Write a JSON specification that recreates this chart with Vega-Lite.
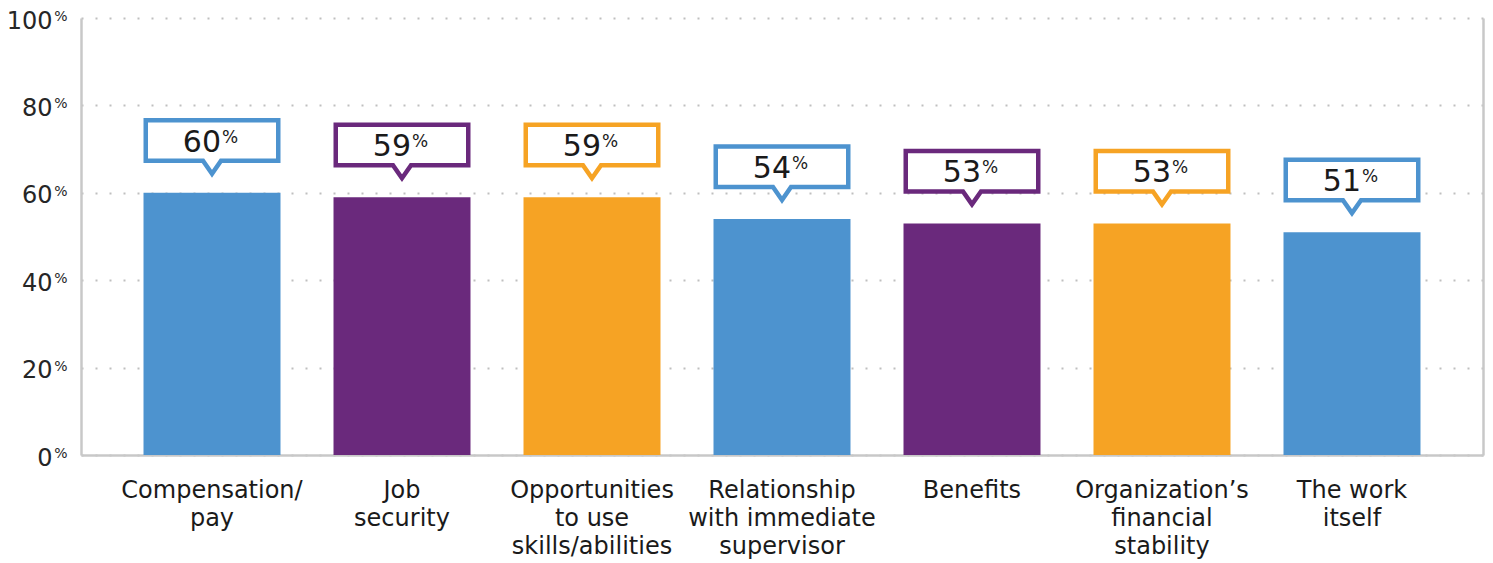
{
  "$schema": "https://vega.github.io/schema/vega-lite/v6.json",
  "width": 1402,
  "height": 437,
  "autosize": {"type": "none"},
  "padding": {"left": 81, "top": 18, "right": 10, "bottom": 108},
  "background": "white",
  "config": {"view": {"stroke": null}, "font": "DejaVu Sans"},
  "data": {
    "values": [
      {"category": "Compensation/\npay", "value": 60},
      {"category": "Job\nsecurity", "value": 59},
      {"category": "Opportunities\nto use\nskills/abilities", "value": 59},
      {"category": "Relationship\nwith immediate\nsupervisor", "value": 54},
      {"category": "Benefits", "value": 53},
      {"category": "Organization’s\nfinancial\nstability", "value": 53},
      {"category": "The work\nitself", "value": 51}
    ]
  },
  "encoding": {
    "x": {
      "field": "category",
      "type": "nominal",
      "sort": null,
      "scale": {"paddingInner": 0.279, "paddingOuter": 0.329},
      "axis": {
        "title": null,
        "labelAngle": 0,
        "labelExpr": "split(datum.label, '\\n')",
        "labelFontSize": 24,
        "labelLineHeight": 28,
        "labelLimit": 400,
        "labelColor": "#1a1a1a",
        "labelPadding": 23,
        "labelBaseline": "top",
        "labelAlign": "center",
        "ticks": false,
        "tickSize": 0,
        "domainColor": "#c8c8c8",
        "domainWidth": 2.5
      }
    }
  },
  "resolve": {"axis": {"y": "independent"}},
  "layer": [
    {
      "mark": {"type": "bar"},
      "encoding": {
        "y": {
          "field": "value",
          "type": "quantitative",
          "scale": {"domain": [0, 100]},
          "axis": {
            "orient": "left",
            "title": null,
            "values": [0, 20, 40, 60, 80, 100],
            "labelFontSize": 24,
            "labelColor": "#262626",
            "labelPadding": 29,
            "labelOffset": 10,
            "labelBaseline": "alphabetic",
            "labelAlign": "right",
            "ticks": false,
            "tickSize": 0,
            "grid": true,
            "gridColor": "#bfbfbf",
            "gridDash": [2, 12],
            "gridWidth": 2,
            "domainColor": "#c8c8c8",
            "domainWidth": 2.5
          }
        },
        "color": {
          "field": "category",
          "type": "nominal",
          "sort": null,
          "scale": {"range": ["#4D93CF", "#6A297C", "#F6A324", "#4D93CF", "#6A297C", "#F6A324", "#4D93CF"]},
          "legend": null
        }
      }
    },
    {
      "mark": {
        "type": "point",
        "shape": "M0,0L-0.136,-0.196L-1,-0.196L-1,-0.8075L1,-0.8075L1,-0.196L0.136,-0.196Z",
        "size": 17556,
        "filled": true,
        "fill": "white",
        "fillOpacity": 1,
        "strokeOpacity": 1,
        "opacity": 1,
        "strokeWidth": 4.5,
        "strokeJoin": "miter",
        "yOffset": -19
      },
      "encoding": {
        "y": {
          "field": "value",
          "type": "quantitative",
          "scale": {"domain": [0, 100]},
          "axis": {
            "orient": "left",
            "title": null,
            "values": [0, 20, 40, 60, 80, 100],
            "labelExpr": "'%'",
            "labelFontSize": 14,
            "labelColor": "#262626",
            "labelPadding": 14,
            "labelOffset": 2.5,
            "labelBaseline": "alphabetic",
            "labelAlign": "right",
            "ticks": false,
            "tickSize": 0,
            "grid": false,
            "domain": false
          }
        },
        "stroke": {
          "field": "category",
          "type": "nominal",
          "sort": null,
          "scale": {"range": ["#4D93CF", "#6A297C", "#F6A324", "#4D93CF", "#6A297C", "#F6A324", "#4D93CF"]},
          "legend": null
        }
      }
    },
    {
      "mark": {
        "type": "text",
        "align": "right",
        "baseline": "alphabetic",
        "fontSize": 30,
        "color": "#1a1a1a",
        "xOffset": 9,
        "yOffset": -41
      },
      "encoding": {
        "y": {
          "field": "value",
          "type": "quantitative",
          "scale": {"domain": [0, 100]},
          "axis": {
            "orient": "right",
            "title": null,
            "labels": false,
            "ticks": false,
            "tickSize": 0,
            "grid": false,
            "domain": true,
            "domainColor": "#c8c8c8",
            "domainWidth": 2.5
          }
        },
        "text": {"field": "value", "type": "quantitative"}
      }
    },
    {
      "mark": {
        "type": "text",
        "text": "%",
        "align": "left",
        "baseline": "alphabetic",
        "fontSize": 17,
        "color": "#1a1a1a",
        "xOffset": 10,
        "yOffset": -50
      },
      "encoding": {
        "y": {
          "field": "value",
          "type": "quantitative",
          "scale": {"domain": [0, 100]},
          "axis": null
        }
      }
    }
  ]
}
